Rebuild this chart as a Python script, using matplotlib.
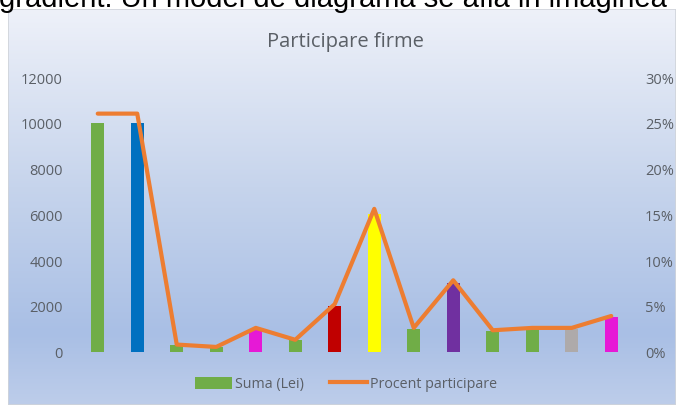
import matplotlib
matplotlib.use('Agg')
import matplotlib.pyplot as plt
import numpy as np
from matplotlib.colors import LinearSegmentedColormap
from matplotlib.lines import Line2D
from matplotlib.patches import Patch, Rectangle

# date firme
firme = [f"F{i}" for i in range(1, 15)]
suma_lei = [10000, 10000, 300, 200, 1000, 500, 2000, 6000, 1000, 3000, 900, 1000, 1000, 1500]
procent = [26.0, 26.0, 0.78, 0.52, 2.6, 1.3, 5.2, 15.6, 2.6, 7.8, 2.34, 2.6, 2.6, 3.9]
culori = ['#70AD47', '#0070C0', '#70AD47', '#70AD47', '#E619D6', '#70AD47', '#C00000',
          '#FFFF00', '#70AD47', '#7030A0', '#70AD47', '#70AD47', '#AEAAAA', '#E619D6']
ticks_stanga = [0, 2000, 4000, 6000, 8000, 10000, 12000]
ticks_dreapta = [0, 5, 10, 15, 20, 25, 30]

plt.rcParams['font.family'] = ['Open Sans', 'DejaVu Sans']
gri = '#5a5f66'

fig = plt.figure(figsize=(6.76, 4.06), dpi=100)
fig.patch.set_facecolor('white')

# fundal cu gradient
bg = fig.add_axes([8 / 676, 0, 1 - 8 / 676, (406 - 10) / 406], zorder=0)
cmap = LinearSegmentedColormap.from_list('fundal', [(0, '#BDCDEA'), (0.18, '#A9BFE5'), (0.55, '#C6D4EC'), (1, '#EEF1F9')])
grad = np.linspace(0, 1, 256).reshape(-1, 1)
bg.imshow(grad, aspect='auto', cmap=cmap, origin='lower', extent=[0, 1, 0, 1])
bg.add_patch(Rectangle((0, 0), 1, 1, fill=False, edgecolor='#d0d4da', linewidth=1.2, transform=bg.transAxes))
bg.set_axis_off()

ax = fig.add_axes([78 / 676, (406 - 352.7) / 406, 553 / 676, 274.7 / 406], zorder=1)
ax.patch.set_alpha(0)
x = np.arange(len(firme))
ax.bar(x, suma_lei, width=0.33, color=culori, zorder=2)
ax.set_xlim(-0.5, len(firme) - 0.5)
ax.set_ylim(0, 12000)
ax.set_yticks(ticks_stanga)
ax.set_xticks([])
ax.tick_params(axis='y', length=0, pad=11, labelsize=10.5, labelcolor=gri)
for s in ax.spines.values():
    s.set_visible(False)

ax2 = ax.twinx()
ax2.plot(x, procent, color='#ED7D31', linewidth=3, solid_capstyle='round', zorder=3)
ax2.set_ylim(0, 30)
ax2.set_yticks(ticks_dreapta)
ax2.set_yticklabels([f"{t}%" for t in ticks_dreapta])
ax2.tick_params(axis='y', length=0, pad=10, labelsize=10.5, labelcolor=gri)
for s in ax2.spines.values():
    s.set_visible(False)

fig.text(345 / 676, 1 - 42 / 406, 'Participare firme', ha='center', va='center', fontsize=14.5, color=gri)

handles = [Patch(facecolor='#70AD47'), Line2D([0], [0], color='#ED7D31', linewidth=3)]
fig.legend(handles, ['Suma (Lei)', 'Procent participare'], loc='center', bbox_to_anchor=(346 / 676, 1 - 385 / 406),
           ncol=2, frameon=False, fontsize=10.3, labelcolor=gri, handlelength=2.6, handleheight=0.9,
           columnspacing=1.8, handletextpad=0.2)

# text deasupra graficului
fig.text(-1 / 676, 1 - 7 / 406, 'gradient. Un model de diagrama se afla in imaginea', ha='left', va='baseline',
         fontsize=21, color='black', family='Liberation Sans')

fig.savefig('out.png', dpi=100)
